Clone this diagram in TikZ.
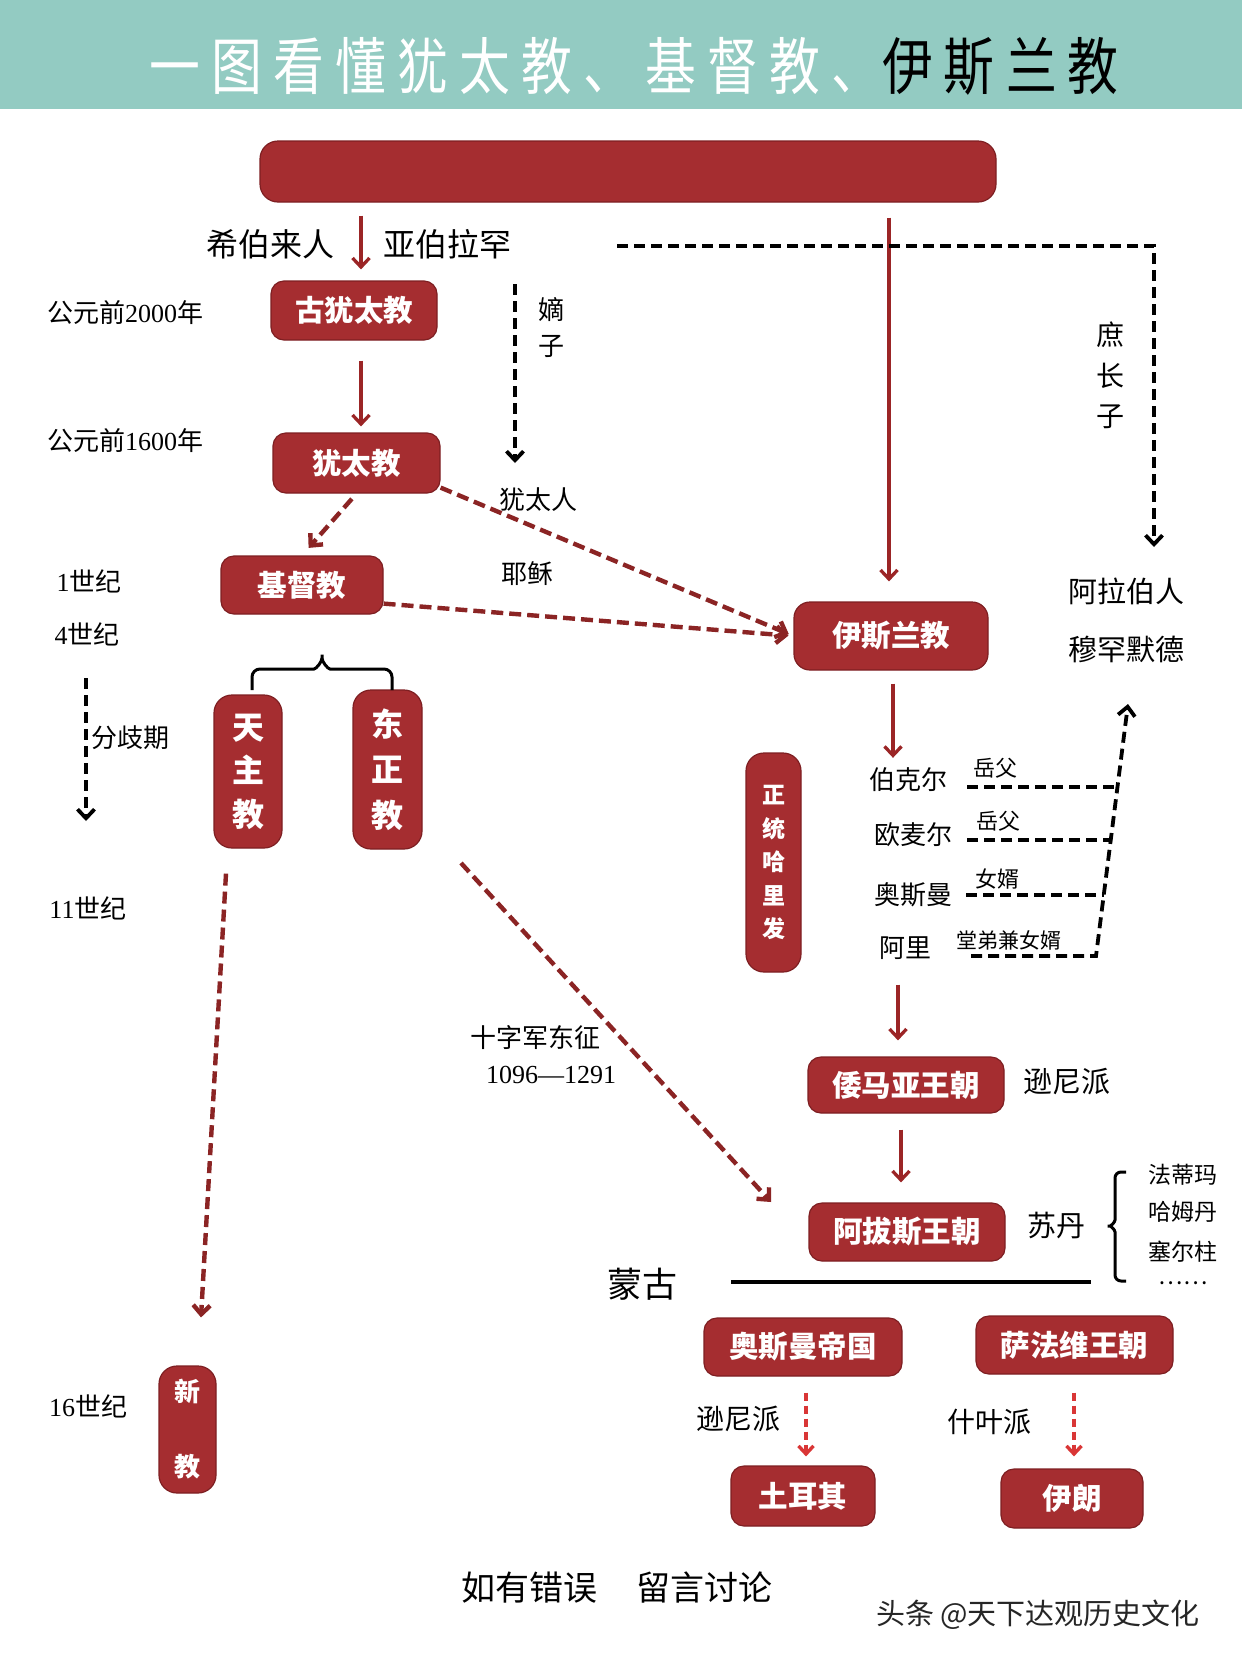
\documentclass[tikz,border=0pt]{standalone}
\usepackage{fontspec}
\setmainfont{Noto Sans CJK SC}
\newfontfamily\serifnum{Liberation Serif}
\newfontfamily\titlefont[FakeStretch=0.82,LetterSpace=18]{Noto Sans CJK SC}
\usetikzlibrary{arrows.meta}
\definecolor{headbg}{HTML}{93CBC2}
\definecolor{boxred}{HTML}{A52D30}
\definecolor{boxedge}{HTML}{7E1F22}
\definecolor{arrred}{HTML}{9B2526}
\definecolor{dashred}{HTML}{8B2424}
\definecolor{brightred}{HTML}{D93636}
\tikzset{
 rbox/.style={rounded corners=13pt, fill=boxred, draw=boxedge, line width=1.2pt, text=white, font=\bfseries\fontsize{29.5}{32}\selectfont, inner sep=0pt, align=center},
 vbox/.style={rbox, rounded corners=18pt},
 lab/.style={inner sep=0pt, font=\fontsize{26}{30}\selectfont, align=center},
 redarr/.style={draw=arrred, line width=3.3pt, -{Straight Barb[length=9pt,width=17pt]}},
 reddash/.style={draw=dashred, line width=4.4pt, dash pattern=on 12pt off 6pt, -{Straight Barb[length=9pt,width=17pt]}},
 blkdash/.style={draw=black, line width=3.8pt, dash pattern=on 11pt off 6pt},
 blkarr/.style={blkdash, -{Straight Barb[length=9pt,width=17pt]}},
 brightdash/.style={draw=brightred, line width=3.4pt, dash pattern=on 8pt off 5pt, -{Straight Barb[length=8pt,width=15pt]}},
 bracepath/.style={draw=black, line width=3pt, rounded corners=8pt},
}
\begin{document}
\begin{tikzpicture}[x=1pt,y=-1pt]
\useasboundingbox (0,0) rectangle (1242,1660);
\fill[white] (0,0) rectangle (1242,1660);
\fill[headbg] (0,0) rectangle (1242,109);
\node[inner sep=0pt, font=\titlefont\fontsize{62}{62}\selectfont] (title) at (634,66) {\textcolor{white}{一图看懂犹太教、基督教、}伊斯兰教};

% boxes
\node[rbox, minimum width=736pt, minimum height=61pt, rounded corners=18pt] (top) at (628,171.5) {};
\node[rbox, minimum width=166pt, minimum height=59pt] (gu) at (354,310.5) {古犹太教};
\node[rbox, minimum width=167pt, minimum height=60pt] (yt) at (356.5,463) {犹太教};
\node[rbox, minimum width=162pt, minimum height=58pt] (jd) at (302,585) {基督教};
\node[vbox, minimum width=68pt, minimum height=153pt, font=\bfseries\fontsize{32}{43.5}\selectfont] (tz) at (248,771.5) {天\\主\\教};
\node[vbox, minimum width=69pt, minimum height=159pt, font=\bfseries\fontsize{32}{45.5}\selectfont] (dz) at (387.5,769.5) {东\\正\\教};
\node[vbox, minimum width=57pt, minimum height=127pt, font=\bfseries\fontsize{26}{75}\selectfont] (xj) at (187.5,1429.5) {新\\教};
\node[rbox, minimum width=194pt, minimum height=68pt, rounded corners=16pt] (isl) at (891,636) {伊斯兰教};
\node[vbox, minimum width=55pt, minimum height=219pt, font=\bfseries\fontsize{23}{33.5}\selectfont] (zt) at (773.5,862.5) {正\\统\\哈\\里\\发};
\node[rbox, minimum width=196pt, minimum height=56pt] (wmy) at (906,1085) {倭马亚王朝};
\node[rbox, minimum width=196pt, minimum height=58pt] (abs) at (907,1232) {阿拔斯王朝};
\node[rbox, minimum width=198pt, minimum height=58pt] (osm) at (803,1347) {奥斯曼帝国};
\node[rbox, minimum width=197pt, minimum height=58pt] (sfw) at (1074.5,1345) {萨法维王朝};
\node[rbox, minimum width=144pt, minimum height=60pt] (tr) at (803,1496) {土耳其};
\node[rbox, minimum width=142pt, minimum height=59pt] (yl) at (1072,1498.5) {伊朗};

% labels
\node[lab, font=\fontsize{32}{36}\selectfont] (xbl) at (270,244) {希伯来人};
\node[lab, font=\fontsize{32}{36}\selectfont] (abl) at (447,244) {亚伯拉罕};
\node[lab] (t2000) at (125,313) {公元前{\serifnum 2000}年};
\node[lab] (t1600) at (125,441) {公元前{\serifnum 1600}年};
\node[lab, font=\fontsize{26}{36}\selectfont] (dz2) at (551,328) {嫡\\子};
\node[lab] (ytr) at (538,500) {犹太人};
\node[lab] (ys) at (527,574) {耶稣};
\node[lab, font=\fontsize{28}{40.5}\selectfont] (szz) at (1110,375.5) {庶\\长\\子};
\node[lab, font=\fontsize{29}{32}\selectfont] (alb) at (1126,591) {阿拉伯人};
\node[lab, font=\fontsize{29}{32}\selectfont] (mhmd) at (1126,649) {穆罕默德};
\node[lab] (c1) at (89,581) {{\serifnum 1}世纪};
\node[lab] (c4) at (87,634) {{\serifnum 4}世纪};
\node[lab] (fqq) at (130,738) {分歧期};
\node[lab] (c11) at (88,908) {{\serifnum 11}世纪};
\node[lab] (c16) at (88,1406) {{\serifnum 16}世纪};
\node[lab] (szj) at (535,1038) {十字军东征};
\node[lab] (szjy) at (551,1075) {\serifnum 1096—1291};
\node[lab] (bk) at (908,780) {伯克尔};
\node[lab] (om) at (913,835) {欧麦尔};
\node[lab] (as) at (913,895) {奥斯曼};
\node[lab] (al) at (905,948) {阿里};
\node[lab, font=\fontsize{22}{26}\selectfont] (r1) at (995,768) {岳父};
\node[lab, font=\fontsize{22}{26}\selectfont] (r2) at (998,821) {岳父};
\node[lab, font=\fontsize{22}{26}\selectfont] (r3) at (997,879) {女婿};
\node[lab, font=\fontsize{21}{26}\selectfont] (r4) at (1009,940) {堂弟兼女婿};
\node[lab, font=\fontsize{29}{32}\selectfont] (xnp1) at (1067,1082) {逊尼派};
\node[lab, font=\fontsize{29}{32}\selectfont] (sd) at (1056,1226) {苏丹};
\node[lab, font=\fontsize{23}{26}\selectfont] (fdm) at (1183,1175) {法蒂玛};
\node[lab, font=\fontsize{23}{26}\selectfont] (hmd) at (1183,1212) {哈姆丹};
\node[lab, font=\fontsize{23}{26}\selectfont] (sez) at (1183,1252) {塞尔柱};
\node[lab, font=\fontsize{23}{26}\selectfont] (dots) at (1183,1283) {……};
\node[lab, font=\fontsize{35}{38}\selectfont] (mg) at (642,1284) {蒙古};
\node[lab, font=\fontsize{28}{32}\selectfont] (xnp2) at (738,1419) {逊尼派};
\node[lab, font=\fontsize{28}{32}\selectfont] (syp) at (989,1422) {什叶派};
\node[lab, font=\fontsize{34}{38}\selectfont] (note1) at (529,1588) {如有错误};
\node[lab, font=\fontsize{34}{38}\selectfont] (note2) at (704,1588) {留言讨论};
\node[lab, font=\fontsize{29}{32}\selectfont, text=black!85] (wm) at (1038,1615) {头条 @天下达观历史文化};

% connectors
\coordinate (a1) at ([xshift=7pt]gu.north);
\draw[redarr, shorten <=13pt, shorten >=11pt] (a1 |- top.south) -- (a1);
\coordinate (a2) at ([xshift=4.5pt]yt.north);
\draw[redarr, shorten <=20pt, shorten >=6pt] (a2 |- gu.south) -- (a2);
\draw[reddash, shorten <=7pt, shorten >=10pt] (yt.south) -- (jd.north);
\draw[reddash, shorten >=5pt] ([yshift=6pt]yt.south east) -- (isl.west);
\draw[reddash, shorten >=5pt] ([yshift=11pt]jd.south east) -- (isl.west);
\coordinate (a6) at ([xshift=-2pt]isl.north);
\draw[redarr, shorten <=15pt, shorten >=20pt] (a6 |- top.south) -- (a6);

\coordinate (d1a) at (515,284);
\coordinate (d1b) at (515,463);
\draw[blkarr] (d1a) -- (d1b);
\coordinate (d2a) at (617,246);
\coordinate (d2b) at (1154,547);
\draw[blkarr] (d2a) -| (d2b);
\coordinate (d3a) at (86,678);
\coordinate (d3b) at (86,821);
\draw[blkarr] (d3a) -- (d3b);

\draw[bracepath] (252,690) |- (306,669) .. controls (316,669) and (322,662) .. (322,650) .. controls (322,662) and (328,669) .. (338,669) -| (392,690);

\coordinate (c10a) at ([xshift=-22pt,yshift=-25pt]tz.south);
\coordinate (c10b) at ([xshift=13.5pt,yshift=48pt]xj.north);
\draw[reddash] (c10a) -- (c10b);
\coordinate (c11a) at (461,863);
\coordinate (c11b) at (771,1202);
\draw[reddash] (c11a) -- (c11b);

\coordinate (a12) at ([xshift=2pt]isl.south);
\draw[redarr, shorten <=13pt, shorten >=10pt] (a12) -- (a12 |- bk.north);
\coordinate (a13) at ([xshift=-8pt]wmy.north);
\draw[redarr, shorten <=25pt, shorten >=16pt] (a13 |- al.south) -- (a13);
\coordinate (a14) at ([xshift=-6pt]abs.north);
\draw[redarr, shorten <=16pt, shorten >=20pt] (a14 |- wmy.south) -- (a14);
\coordinate (a15) at ([xshift=3pt]tr.north);
\draw[brightdash, shorten <=16pt, shorten >=9pt] (a15 |- osm.south) -- (a15);
\coordinate (a16) at ([xshift=2pt]yl.north);
\draw[brightdash, shorten <=18pt, shorten >=12pt] (a16 |- sfw.south) -- (a16);

% caliph relations
\draw[blkdash] (967,787) -- (1117,787);
\draw[blkdash] (967,840) -- (1111,840);
\draw[blkdash] (966,895) -- (1104,895);
\coordinate (k1) at (971,956);
\coordinate (k2) at (1096,956);
\coordinate (k3) at (1128,704);
\draw[blkarr] (k1) -- (k2) -- (k3);

% right brace
\draw[bracepath, rounded corners=6pt] (1126,1172) -| (1115,1214) .. controls (1115,1222) and (1111,1226) .. (1104,1226) .. controls (1111,1226) and (1115,1230) .. (1115,1238) |- (1126,1281);

% mongol line
\coordinate (m1) at (731,1282);
\coordinate (m2) at (1091,1282);
\draw[line width=4pt] (m1) -- (m2);
\end{tikzpicture}
\end{document}
